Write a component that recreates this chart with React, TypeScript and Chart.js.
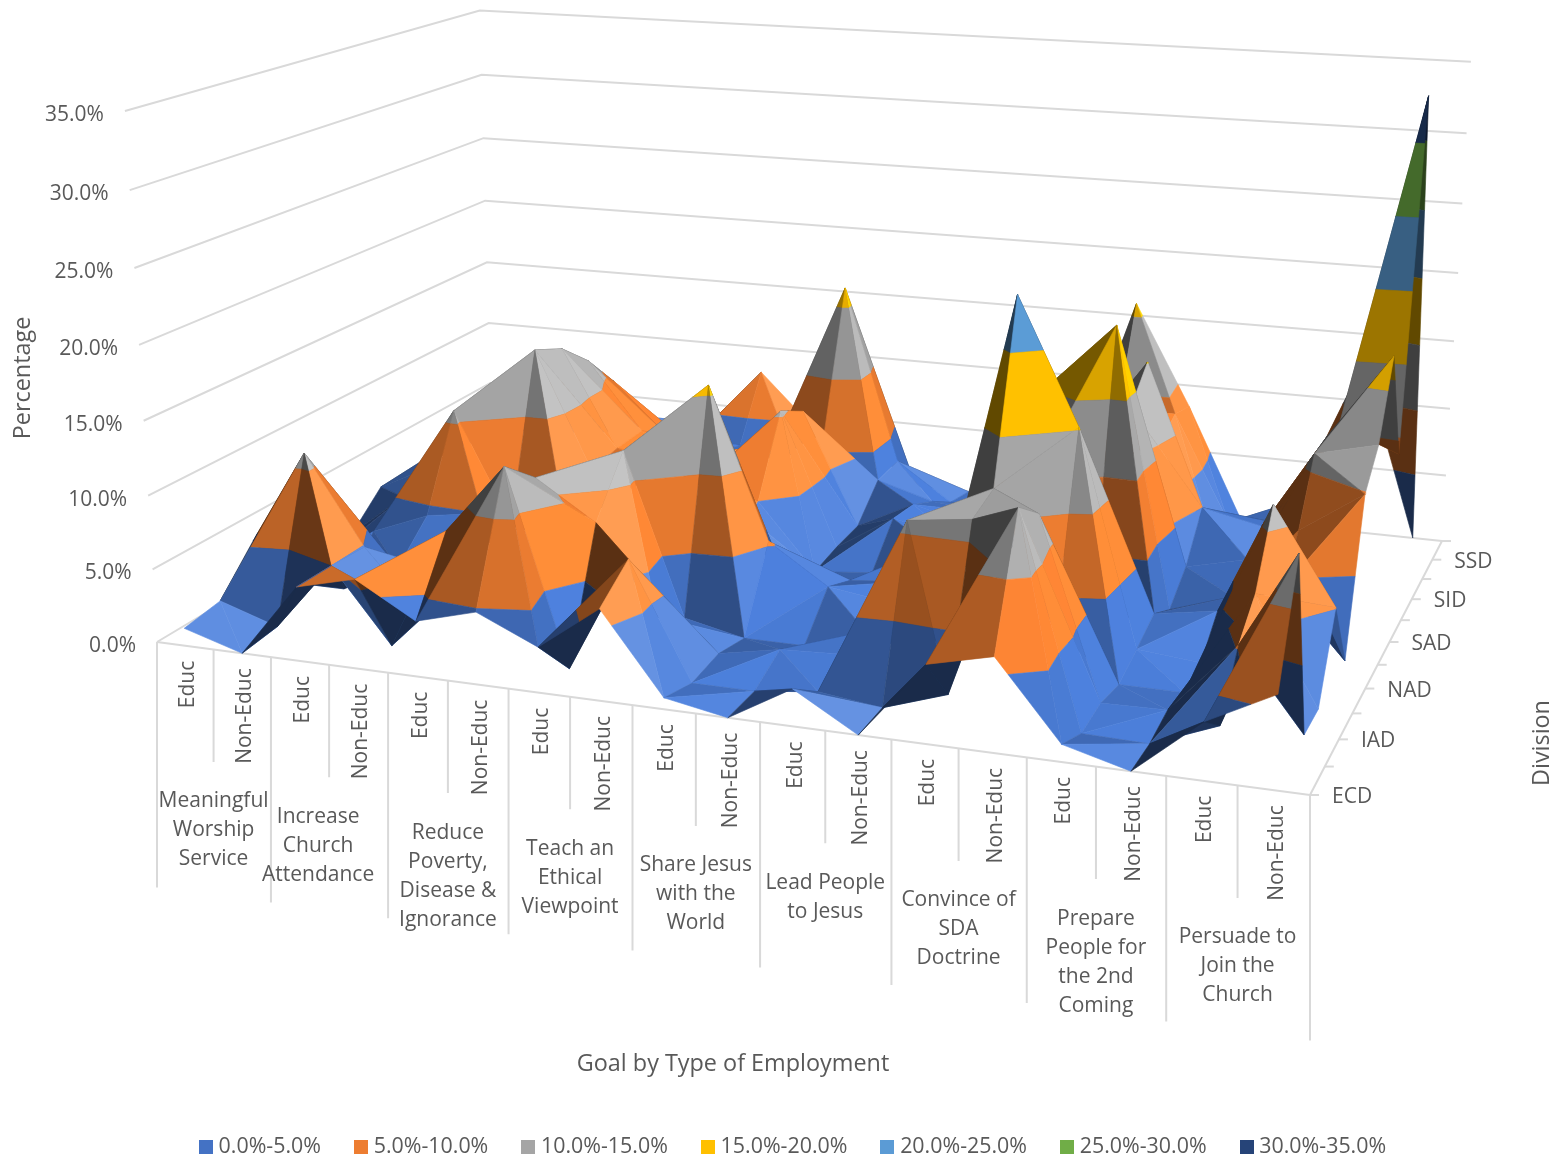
import { useEffect, useRef } from 'react';
import { Chart, registerables } from 'chart.js';
Chart.register(...registerables);

// ---------- data ----------
const subCategories = ['Educ', 'Non-Educ'];
const goalLabels = [
  ['Meaningful', 'Worship', 'Service'],
  ['Increase', 'Church', 'Attendance'],
  ['Reduce', 'Poverty,', 'Disease &', 'Ignorance'],
  ['Teach an', 'Ethical', 'Viewpoint'],
  ['Share Jesus', 'with the', 'World'],
  ['Lead People', 'to Jesus'],
  ['Convince of', 'SDA', 'Doctrine'],
  ['Prepare', 'People for', 'the 2nd', 'Coming'],
  ['Persuade to', 'Join the', 'Church'],
];
const divisionLabels = ['ECD', '', 'IAD', '', 'NAD', '', 'SAD', '', 'SID', '', 'SSD', ''];
const valueTicks = [0, 5, 10, 15, 20, 25, 30, 35];
const bandLabels = ['0.0%-5.0%', '5.0%-10.0%', '10.0%-15.0%', '15.0%-20.0%', '20.0%-25.0%', '25.0%-30.0%', '30.0%-35.0%'];
const bandColors = ['#4472C4', '#ED7D31', '#A5A5A5', '#FFC000', '#5B9BD5', '#70AD47', '#264478'];

const rowECD = [1.2, 0, 5, 6, 3.7, 4.8, 3, 6, 0.75, 0, 2.4, 0, 5, 6, 1.1, 0, 3.6, 5.8];
const rowB = [1.6, 0.3, 5, 0, 8.3, 13, 0, 7.8, 0.1, 0.1, 0.6, 0.1, 1.5, 13.8, 0.1, 0, 1.7, 12.8];
const rowIAD = [4.4, 11, 4.9, 0.5, 6, 11, 8.4, 2.5, 0.5, 1.3, 1.5, 10.8, 11.3, 12.1, 0.4, 0.5, 5.2, 0];
const rowD = [0, 0, 2, 2, 6, 7, 12, 0.9, 0, 0, 1.5, 0, 12, 3, 0, 0, 7, 0];
const rowNAD = [0, 2.8, 4.4, 5, 4, 6, 9, 15.7, 5.3, 2.6, 2, 3.5, 23.5, 15.2, 0.8, 0.4, 11.4, 5.1];
const rowF = [0.8, 4, 10.8, 3, 3, 7, 8, 6, 0, 1.6, 2, 4, 10, 0.5, 1.7, 2.4, 4.5, 0];
const rowSAD = [3, 5, 10, 14.5, 6, 7, 6, 5, 0.3, 0.7, 3, 2, 15.6, 19.8, 0.5, 1.9, 7, 9.9];
const rowH = [2.7, 6, 9, 13.5, 6.4, 6, 5, 10.4, 0.7, 3.3, 2.5, 2, 9, 13, 2.1, 3.1, 11, 12];
const rowSID = [3, 5, 8, 11.5, 6.5, 5, 6, 9.2, 0.9, 3, 2, 1, 6, 15.1, 5, 4.1, 11, 17];
const rowJ = [2.5, 4, 5, 8.8, 5, 4, 4, 6.3, 3.1, 1.9, 1.5, 1, 6, 8, 0.8, 3, 10.6, 8.9];
const rowSSD = [2, 3, 3, 4.8, 3, 3.3, 3, 16.4, 3.3, 0.5, 0.5, 1, 9, 9, 1.2, 2, 11, 33.2];
const rowL = [1.5, 2, 2, 3, 3.5, 8, 4, 3, 0, 0, 0, 0, 15.9, 8.4, 0, 2, 12.9, 0];
const grid = [rowECD, rowB, rowIAD, rowD, rowNAD, rowF, rowSAD, rowH, rowSID, rowJ, rowSSD, rowL];
// cells whose facet fold runs along the other diagonal in the picture ("column,row")
const flippedCells = ['8,3'];

// ---------- 3D projection of the Excel surface view ----------
const FONT = '"Open Sans", sans-serif';
const TEXT = '#595959';
const GRID = '#d9d9d9';
const NC = 18;
const NR = grid.length;
const VMAX = 35;

function floorW(u: number, v: number) { return 1 - 0.12267 * u + 0.23073 * v; }
function project(u: number, v: number, val: number) {
  const w = floorW(u, v);
  const fx = (157 + 992.3 * u + 448.5 * v) / w;
  const fy = (642 + 55.5 * u - 98 * v) / w;
  const t = val / VMAX;
  const tw = t / (1 + 0.05 * (1 - t));
  const h = (tw * 531) / w;
  return { x: fx + (h * (fx - 797)) / (11238 - fy), y: fy - h };
}
const colU = (c: number) => (c + 0.5) / NC;
const rowV = (r: number) => r / (NR - 1);

type V3 = { c: number; r: number; z: number };

function clipBand(poly: V3[], level: number, keepAbove: boolean) {
  const out: V3[] = [];
  for (let i = 0; i < poly.length; i++) {
    const a = poly[i];
    const b = poly[(i + 1) % poly.length];
    const ina = keepAbove ? a.z >= level : a.z <= level;
    const inb = keepAbove ? b.z >= level : b.z <= level;
    if (ina) out.push(a);
    if (ina !== inb) {
      const f = (level - a.z) / (b.z - a.z);
      out.push({ c: a.c + (b.c - a.c) * f, r: a.r + (b.r - a.r) * f, z: level });
    }
  }
  return out;
}

const CU = 4.5;
const CV = 3.5;
function shadeFactor(tri: V3[]) {
  const [a, b, d] = tri;
  const e1 = [(b.c - a.c) * CU, (b.r - a.r) * CV, b.z - a.z];
  const e2 = [(d.c - a.c) * CU, (d.r - a.r) * CV, d.z - a.z];
  let n = [e1[1] * e2[2] - e1[2] * e2[1], e1[2] * e2[0] - e1[0] * e2[2], e1[0] * e2[1] - e1[1] * e2[0]];
  const len = Math.hypot(n[0], n[1], n[2]) || 1;
  n = n.map((q) => q / len);
  if (n[2] < 0) n = n.map((q) => -q);
  const m = 0.05 + 0.8 * n[0] - 0.38 * n[1] + 1.0 * n[2];
  return Math.min(1.3, Math.max(0.38, m));
}
function shadedColor(hex: string, m: number) {
  const rgb = [1, 3, 5].map((i) => parseInt(hex.slice(i, i + 2), 16));
  const out = rgb.map((q) => {
    let val = q * Math.min(m, 1.13);
    if (m > 1.13) val += (255 - val) * (m - 1.13) * 0.8;
    return Math.round(Math.min(255, val));
  });
  return `rgb(${out[0]},${out[1]},${out[2]})`;
}

function surfaceDatasets() {
  const items: { key: number; ds: any }[] = [];
  for (let r = 0; r < NR - 1; r++) {
    for (let c = 0; c < NC - 1; c++) {
      const p00 = { c, r, z: grid[r][c] };
      const p10 = { c: c + 1, r, z: grid[r][c + 1] };
      const p01 = { c, r: r + 1, z: grid[r + 1][c] };
      const p11 = { c: c + 1, r: r + 1, z: grid[r + 1][c + 1] };
      let mainDiagonal = p00.z + p11.z >= p10.z + p01.z;
      if (flippedCells.includes(`${c},${r}`)) mainDiagonal = !mainDiagonal;
      const tris = mainDiagonal ? [[p00, p10, p11], [p00, p11, p01]] : [[p00, p10, p01], [p10, p11, p01]];
      const quadKey = floorW(colU(c + 0.5), rowV(r + 0.5));
      for (const tri of tris) {
        const m = shadeFactor(tri);
        const cu = (tri[0].c + tri[1].c + tri[2].c) / 3;
        const cr = (tri[0].r + tri[1].r + tri[2].r) / 3;
        const triKey = floorW(colU(cu), rowV(cr));
        bandColors.forEach((color, bi) => {
          const lo = bi * 5;
          const hi = lo + 5;
          let poly: V3[] = tri;
          poly = clipBand(poly, lo, true);
          if (poly.length >= 3) poly = clipBand(poly, hi, false);
          if (poly.length < 3) return;
          const pts = poly.map((q) => project(colU(q.c), rowV(q.r), q.z));
          pts.push(pts[0]);
          const col = shadedColor(color, m);
          items.push({
            key: quadKey * 1000 + triKey,
            ds: { polygon: true, data: pts, showLine: true, borderColor: col, backgroundColor: col, borderWidth: 0.6, pointRadius: 0, fill: false, clip: false, tension: 0 },
          });
        });
      }
    }
  }
  items.sort((a, b) => a.key - b.key); // nearest first: chart.js paints the last dataset first
  return items.map((i) => i.ds);
}

function axisDatasets() {
  const sets: any[] = [];
  const line = (pts: { x: number; y: number }[]) =>
    sets.push({ data: pts, showLine: true, borderColor: GRID, borderWidth: 2, pointRadius: 0, fill: false, clip: false, tension: 0 });
  valueTicks.forEach((val) => line([project(0, 0, val), project(0, 1, val), project(1, 1, val)]));
  line([project(0, 0, 0), project(1, 0, 0)]);
  line([project(1, 0, 0), project(1, 1, 0)]);
  for (let k = 0; k <= NC; k++) {
    const p = project(k / NC, 0, 0);
    line([p, { x: p.x, y: p.y + (k % 2 === 0 ? 245.5 : 112.5) }]);
  }
  for (let r = 0; r < NR; r++) {
    const p = project(1, rowV(r), 0);
    line([p, { x: p.x + 9, y: p.y }]);
  }
  return sets;
}

const polygonFill = {
  id: 'polygonFill',
  beforeDatasetDraw(chart: any, args: any) {
    const ds = chart.data.datasets[args.index];
    if (!ds.polygon) return;
    const { ctx } = chart;
    ctx.save();
    ctx.beginPath();
    args.meta.data.forEach((p: any, i: number) => (i ? ctx.lineTo(p.x, p.y) : ctx.moveTo(p.x, p.y)));
    ctx.closePath();
    ctx.fillStyle = ds.backgroundColor;
    ctx.fill();
    ctx.restore();
  },
};

const pixelScales = {
  id: 'pixelScales',
  afterLayout(chart: any) {
    const { x, y } = chart.scales;
    x.min = x.left; x.max = x.right; x.configure();
    y.min = y.top; y.max = y.bottom; y.configure();
  },
};

const axisText = {
  id: 'axisText',
  afterDatasetsDraw(chart: any) {
    const { ctx } = chart;
    ctx.save();
    ctx.fillStyle = TEXT;
    ctx.textBaseline = 'middle';
    ctx.font = `21px ${FONT}`;
    // value axis
    ctx.textAlign = 'right';
    valueTicks.forEach((val) => {
      const p = project(0, 0, val);
      ctx.fillText(`${val.toFixed(1)}%`, p.x - 21, p.y + 4);
    });
    // division axis
    ctx.textAlign = 'left';
    divisionLabels.forEach((lab, r) => {
      const p = project(1, rowV(r), 0);
      if (lab) ctx.fillText(lab, p.x + 22, p.y + 2);
    });
    // sub categories
    for (let c = 0; c < NC; c++) {
      const p = project(colU(c), 0, 0);
      ctx.save();
      ctx.translate(p.x + 3, p.y + 15);
      ctx.rotate(-Math.PI / 2);
      ctx.textAlign = 'right';
      ctx.fillText(subCategories[c % 2], 0, 0);
      ctx.restore();
    }
    // goals
    ctx.textAlign = 'center';
    goalLabels.forEach((lines, g) => {
      const p = project((2 * g + 1) / NC, 0, 0);
      const nudge = g === 1 ? -11 : 0;
      lines.forEach((t, i) => ctx.fillText(t, p.x + nudge, p.y + 152 + i * 29));
    });
    // titles
    ctx.font = `23.4px ${FONT}`;
    ctx.fillText('Goal by Type of Employment', 733, 1064);
    ctx.save();
    ctx.translate(23, 378);
    ctx.rotate(-Math.PI / 2);
    ctx.fillText('Percentage', 0, 0);
    ctx.restore();
    ctx.save();
    ctx.translate(1542, 743);
    ctx.rotate(-Math.PI / 2);
    ctx.fillText('Division', 0, 0);
    ctx.restore();
    ctx.restore();
  },
};

function legendSwatches() {
  return bandColors.map((c) => {
    const cv = document.createElement('canvas');
    cv.width = 14;
    cv.height = 14;
    const g = cv.getContext('2d')!;
    g.fillStyle = c;
    g.fillRect(0, 0, 14, 14);
    return cv;
  });
}

export default function App() {
  const ref = useRef<HTMLCanvasElement>(null);
  useEffect(() => {
    const swatches = legendSwatches();
    const chart = new Chart(ref.current as HTMLCanvasElement, {
      type: 'scatter',
      data: { datasets: [...surfaceDatasets(), ...axisDatasets()] },
      options: {
        animation: false,
        responsive: false,
        devicePixelRatio: 1,
        events: [],
        layout: { padding: { left: 29, right: 0, top: 0, bottom: -8 } },
        scales: {
          x: { type: 'linear', display: false },
          y: { type: 'linear', display: false, reverse: true },
        },
        plugins: {
          tooltip: { enabled: false },
          legend: {
            position: 'bottom',
            onClick: () => {},
            labels: {
              usePointStyle: true,
              boxWidth: 4,
              padding: 38,
              color: TEXT,
              font: { family: FONT, size: 21.4 },
              generateLabels: () =>
                bandLabels.map((text, i) => ({ text, fontColor: TEXT, fillStyle: bandColors[i], strokeStyle: bandColors[i], lineWidth: 0, hidden: false, pointStyle: swatches[i] })),
            },
          },
        },
      } as any,
      plugins: [pixelScales, polygonFill, axisText],
    } as any);
    return () => chart.destroy();
  }, []);
  return <canvas ref={ref} width={1561} height={1160} style={{ position: 'fixed', left: 0, top: 0, display: 'block' }} />;
}
